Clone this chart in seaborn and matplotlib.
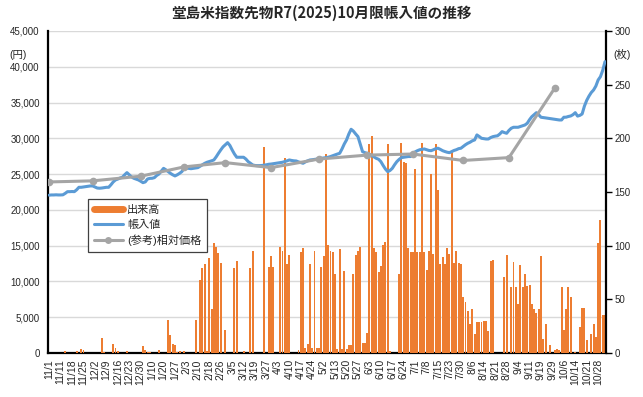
import matplotlib
matplotlib.use("Agg")
import matplotlib.pyplot as plt
from matplotlib.lines import Line2D
from matplotlib.ticker import FuncFormatter, MultipleLocator
import numpy as np
import pandas as pd
import seaborn as sns

# ---- data ----
# tick labels, one every 5 trading days
date_labels = ["11/1", "11/11", "11/18", "11/25", "12/2", "12/9", "12/16", "12/23", "12/30",
               "1/10", "1/20", "1/27", "2/3", "2/10", "2/18", "2/26", "3/5", "3/12", "3/19",
               "3/27", "4/3", "4/10", "4/17", "4/24", "5/2", "5/13", "5/20", "5/27", "6/3",
               "6/10", "6/17", "6/24", "7/1", "7/8", "7/15", "7/23", "7/30", "8/6", "8/14",
               "8/21", "8/28", "9/4", "9/11", "9/19", "9/29", "10/6", "10/14", "10/21", "10/28"]

# 出来高 (枚), one per trading day
volume = [0, 0, 0, 0, 0, 0, 0, 1.5, 0, 0,
          0, 0, 2, 0, 3.5, 3, 0, 0, 0, 0,
          0, 0, 0, 14, 1, 0, 0, 0, 8, 5,
          2, 0, 0, 0, 1.5, 0, 0, 0, 0, 0,
          0, 6, 3, 1, 1, 0, 0, 0, 3, 0,
          0, 0, 31, 17, 8, 7.5, 1, 1.5, 0, 1.5,
          0, 0, 0, 0, 31, 0, 68, 79, 83, 1.5,
          88, 41, 102, 99, 93, 84, 0, 21, 0, 0,
          0, 79, 86, 0, 0, 2, 0, 0, 79, 95,
          0, 0, 0, 0, 192, 0, 80, 90, 80, 0,
          0, 99, 95, 182, 83, 91, 0, 0, 0, 3,
          94, 98, 5, 8, 83, 5, 95, 5, 5, 80,
          90, 185, 101, 95, 94, 74, 4, 97, 4, 76,
          4, 7, 7, 74, 91, 95, 99, 9, 9, 19,
          195, 202, 98, 94, 75, 81, 101, 103, 195, 1.5,
          0, 0, 0, 74, 196, 178, 177, 98, 94, 94,
          171, 94, 94, 196, 94, 77, 95, 167, 92, 195,
          152, 83, 89, 83, 98, 92, 187, 84, 95, 84,
          83, 52, 47, 39, 27, 41, 18, 29, 29, 29,
          30, 30, 20, 86, 87, 0, 0, 0, 0, 71,
          91, 0, 61, 85, 61, 46, 82, 61, 74, 62,
          63, 46, 41, 37, 41, 90, 13, 27, 0, 7,
          0, 2.5, 4, 2.5, 61, 21, 41, 61, 52, 0,
          1, 0, 24, 42, 42, 12, 0, 18, 27, 15,
          102, 124, 35, 35]

# 帳入値 (円), one per trading day
settle = [22050, 22080, 22080, 22100, 22080, 22080, 22100, 22300, 22540, 22540,
          22560, 22540, 22800, 23150, 23150, 23200, 23250, 23300, 23340, 23340,
          23200, 23050, 23020, 23050, 23100, 23150, 23150, 23500, 23900, 24180,
          24300, 24450, 24550, 24900, 25200, 24900, 24600, 24410, 24300, 24180,
          24000, 23800, 23900, 24310, 24400, 24410, 24500, 24800, 25010, 25400,
          25800, 25600, 25340, 25100, 24900, 24740, 24900, 25100, 25340, 25800,
          25800, 25800, 25750, 25800, 25850, 25900, 26100, 26300, 26500, 26650,
          26750, 26850, 26970, 27400, 27900, 28370, 28800, 29100, 29390, 29000,
          28370, 27800, 27350, 27350, 27350, 27350, 27100, 26740, 26500, 26270,
          26200, 26180, 26180, 26200, 26250, 26300, 26370, 26400, 26450, 26510,
          26550, 26600, 26650, 26750, 26850, 26970, 26900, 26850, 26830, 26700,
          26600, 26510, 26700, 26850, 26970, 27000, 27050, 27110, 27150, 27200,
          27250, 27290, 27350, 27450, 27570, 27700, 27800, 27900, 28500, 29200,
          29770, 30600, 31260, 31000, 30600, 30230, 29200, 28130, 28000, 27900,
          27750, 27600, 27400, 27200, 27070, 26740, 26200, 25700, 25340, 25500,
          25800, 26300, 26740, 27050, 27300, 27350, 27400, 27450, 27450, 27800,
          28100, 28270, 28400, 28450, 28510, 28400, 28300, 28270, 28400, 28550,
          28610, 28450, 28270, 28150, 28050, 27990, 28150, 28300, 28400, 28550,
          28610, 28850, 29100, 29300, 29450, 29650, 29770, 30470, 30250, 30000,
          29950, 29900, 29900, 30100, 30230, 30300, 30350, 30600, 30930, 30800,
          30700, 31100, 31400, 31540, 31540, 31540, 31650, 31750, 31860, 32100,
          32600, 33020, 33300, 33580, 33300, 32940, 32900, 32850, 32800, 32750,
          32700, 32660, 32600, 32560, 32560, 32940, 32950, 33050, 33120, 33300,
          33580, 33100, 33200, 33400, 34500, 35300, 35900, 36400, 36750, 37300,
          38150, 38610, 39500, 40710]

# (参考)相対価格 : trading-day number and price
ref_day = [0, 19, 40, 59, 77, 97, 118, 139, 159, 181, 201, 221]
ref_price = [23900, 24050, 24700, 26000, 26600, 25900, 27100, 27650, 27800, 26900, 27300, 37000]

ORANGE = "#ED7D31"
BLUE = "#5B9BD5"
GRAY = "#A5A5A5"

n_days = len(volume)
day = np.arange(n_days)
df = pd.DataFrame({"day": day, "volume": volume, "settle": settle})
ref_df = pd.DataFrame({"day": ref_day, "price": ref_price})

sns.set_theme(style="white")
plt.rcParams["font.family"] = ["Liberation Sans", "Noto Sans CJK JP"]

fig = plt.figure(figsize=(6.43, 3.97), dpi=100)
ax = fig.add_axes([0.0747, 0.111, 0.868, 0.811])
ax2 = ax.twinx()   # bars, right axis
ax3 = ax.twinx()   # lines on top, left scale

# bars
sns.barplot(data=df, x="day", y="volume", ax=ax2, color=ORANGE, saturation=1,
            native_scale=True, width=0.85, errorbar=None, linewidth=0)

# lines
sns.lineplot(data=df, x="day", y="settle", ax=ax3, color=BLUE, linewidth=2.2, legend=False)
sns.lineplot(data=ref_df, x="day", y="price", ax=ax3, color=GRAY, linewidth=2.2,
             marker="o", markersize=5.5, markeredgewidth=0, legend=False)

ax.set_zorder(1)
ax2.set_zorder(2)
ax3.set_zorder(3)
ax2.patch.set_visible(False)
ax3.patch.set_visible(False)

for a in (ax, ax2, ax3):
    a.set_xlim(-0.5, n_days - 0.5)
    a.set_xlabel("")
    a.set_ylabel("")

ax.set_ylim(0, 45000)
ax3.set_ylim(0, 45000)
ax2.set_ylim(0, 300)

# left axis
ax.yaxis.set_major_locator(MultipleLocator(5000))
ax.yaxis.set_major_formatter(FuncFormatter(lambda v, p: f"{int(v):,}"))
ax.yaxis.grid(True, color="#D9D9D9", linewidth=1.0)
ax.tick_params(axis="y", length=0, labelsize=7, pad=6)

# right axis
ax2.yaxis.set_major_locator(MultipleLocator(50))
ax2.tick_params(axis="y", length=4, width=1, color="black", labelsize=7, pad=2, direction="out")
ax3.yaxis.set_visible(False)

# x axis: a tick on every day, a label every 5 days
tick_text = [""] * n_days
for k, lab in enumerate(date_labels):
    tick_text[k * 5] = lab
ax.set_xticks(day)
ax.set_xticklabels(tick_text, rotation=90, fontsize=7.5)
ax.tick_params(axis="x", length=3, width=0.9, color="black", pad=1.5, direction="out")
ax2.xaxis.set_visible(False)
ax3.xaxis.set_visible(False)

for s in ["top", "right"]:
    ax.spines[s].set_visible(False)
ax.spines["left"].set_color("black")
ax.spines["left"].set_linewidth(1.6)
ax.spines["bottom"].set_color("black")
ax.spines["bottom"].set_linewidth(1.6)
for s in ["top", "left", "bottom"]:
    ax2.spines[s].set_visible(False)
ax2.spines["right"].set_color("black")
ax2.spines["right"].set_linewidth(1.6)
for s in ax3.spines.values():
    s.set_visible(False)

# legend
handles = [Line2D([], [], color=ORANGE, linewidth=5),
           Line2D([], [], color=BLUE, linewidth=2.2),
           Line2D([], [], color=GRAY, linewidth=2.2, marker="o", markersize=5, markeredgewidth=0)]
leg = ax3.legend(handles, ["出来高", "帳入値", "(参考)相対価格"], loc="upper left",
                 bbox_to_anchor=(0.072, 0.478), borderaxespad=0, fontsize=8,
                 frameon=True, fancybox=False, edgecolor="#404040", framealpha=1,
                 handlelength=2.6, handletextpad=0.4, labelspacing=0.45, borderpad=0.5)
leg.get_frame().set_linewidth(0.9)

# title and units
fig.text(0.5, 0.968, "堂島米指数先物R7(2025)10月限帳入値の推移", ha="center", va="center",
         fontsize=10.5, fontweight="bold", family=["Noto Sans CJK JP", "DejaVu Sans"])
fig.text(0.028, 0.862, "(円)", ha="center", va="center", fontsize=7.5)
fig.text(0.968, 0.862, "(枚)", ha="center", va="center", fontsize=7.5)

fig.savefig("out.png", dpi=100)
